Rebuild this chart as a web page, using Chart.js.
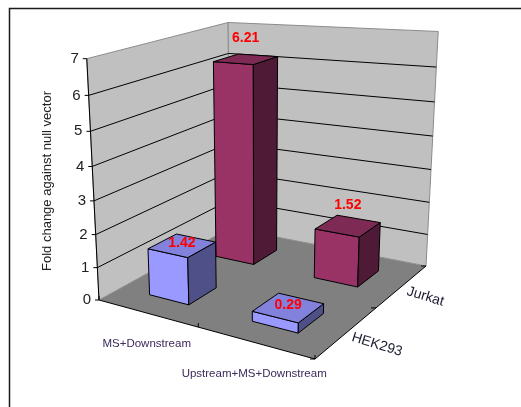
<!DOCTYPE html>
<html>
<head>
<meta charset="utf-8">
<script src="https://cdn.jsdelivr.net/npm/chart.js@4.4.1/dist/chart.umd.min.js"></script>
<style>
  html, body { margin: 0; padding: 0; background: #fff; }
  #wrap { position: relative; width: 521px; height: 407px; }
</style>
</head>
<body>
<div id="wrap"><canvas id="c" width="521" height="407"></canvas></div>
<script>
// ---- data ----
const categories = ['MS+Downstream', 'Upstream+MS+Downstream'];
const seriesNames = ['HEK293', 'Jurkat'];          // front row first
const hek293Values = [1.42, 0.29];
const jurkatValues = [6.21, 1.52];
const valueTicks = [0, 1, 2, 3, 4, 5, 6, 7];
const axisTitle = 'Fold change against null vector';

// ---- styling ----
const FONT = 'Arial, "Liberation Sans", sans-serif';
const faceColors = {
  HEK293: { front: '#9999FF', top: '#8282DC', side: '#505088' },
  Jurkat: { front: '#993366', top: '#7D2A55', side: '#4F1A35' }
};
const labelLift = { HEK293: 2, Jurkat: 21 };

// Perspective plot box: floor corners (u,v) = (0,0),(1,0),(1,1),(0,1)
// and three corners of the wall tops, in canvas pixels.
const plotBox = {
  floor: [[99, 300], [315, 359], [426, 266], [230, 228]],
  top: [[0, 0, 87, 60], [1, 1, 437, 40], [0, 1, 229, 14]]
};

function makeProjector(b) {
  const [[x0, y0], [x1, y1], [x2, y2], [x3, y3]] = b.floor;
  const dx1 = x1 - x2, dx2 = x3 - x2, dx3 = x0 - x1 + x2 - x3;
  const dy1 = y1 - y2, dy2 = y3 - y2, dy3 = y0 - y1 + y2 - y3;
  const den = dx1 * dy2 - dx2 * dy1;
  const g = (dx3 * dy2 - dx2 * dy3) / den;
  const h = (dx1 * dy3 - dx3 * dy1) / den;
  const a = x1 - x0 + g * x1, bb = x3 - x0 + h * x3, c = x0;
  const d = y1 - y0 + g * y1, e = y3 - y0 + h * y3, f = y0;
  const base = (u, v) => [a * u + bb * v + c, d * u + e * v + f, g * u + h * v + 1];

  // vertical column of the projection, least squares over the wall-top corners
  const M = [[0, 0, 0], [0, 0, 0], [0, 0, 0]], r = [0, 0, 0];
  const add = (row, val) => {
    for (let i = 0; i < 3; i++) {
      r[i] += row[i] * val;
      for (let j = 0; j < 3; j++) M[i][j] += row[i] * row[j];
    }
  };
  b.top.forEach(([u, v, sx, sy]) => {
    const [X, Y, W] = base(u, v);
    add([1, 0, -sx], sx * W - X);
    add([0, 1, -sy], sy * W - Y);
  });
  const det = m => m[0][0] * (m[1][1] * m[2][2] - m[1][2] * m[2][1])
                 - m[0][1] * (m[1][0] * m[2][2] - m[1][2] * m[2][0])
                 + m[0][2] * (m[1][0] * m[2][1] - m[1][1] * m[2][0]);
  const D = det(M);
  const sol = [0, 1, 2].map(k => det(M.map((row, i) => row.map((val, j) => (j === k ? r[i] : val)))) / D);
  const [pu, pv, pw] = sol;
  return (u, v, t) => {
    const [X, Y, W] = base(u, v);
    const w = W + pw * t;
    return { x: (X + pu * t) / w, y: (Y + pv * t) / w };
  };
}
const P = makeProjector(plotBox);

function poly(ctx, pts, fill, stroke, lw) {
  ctx.beginPath();
  pts.forEach((p, i) => (i ? ctx.lineTo(p.x, p.y) : ctx.moveTo(p.x, p.y)));
  ctx.closePath();
  if (fill) { ctx.fillStyle = fill; ctx.fill(); }
  if (stroke) { ctx.strokeStyle = stroke; ctx.lineWidth = lw || 1; ctx.stroke(); }
}
function line(ctx, pts, color, lw) {
  ctx.beginPath();
  pts.forEach((p, i) => (i ? ctx.lineTo(p.x, p.y) : ctx.moveTo(p.x, p.y)));
  ctx.strokeStyle = color; ctx.lineWidth = lw || 1; ctx.stroke();
}

const box3d = {
  id: 'box3d',
  beforeDraw(chart) {
    const ctx = chart.ctx;
    ctx.save();
    ctx.fillStyle = '#fff';
    ctx.fillRect(0, 0, chart.width, chart.height);
    ctx.restore();
  },
  beforeDatasetsDraw(chart) {
    const ctx = chart.ctx;
    const xs = chart.scales.x, ys = chart.scales.y;
    const yBase = ys.getPixelForValue(ys.min), yTop = ys.getPixelForValue(ys.max);
    const dec = v => (ys.getPixelForValue(v) - yBase) / (yTop - yBase);
    const span = xs.right - xs.left;
    const nCats = chart.data.labels.length;
    const nRows = chart.data.datasets.length;
    ctx.save();

    // floor and walls
    poly(ctx, [P(0, 0, 0), P(1, 0, 0), P(1, 1, 0), P(0, 1, 0)], '#808080');
    poly(ctx, [P(0, 0, 0), P(0, 1, 0), P(0, 1, 1), P(0, 0, 1)], '#C0C0C0', '#8c8c8c', 1);
    poly(ctx, [P(0, 1, 0), P(1, 1, 0), P(1, 1, 1), P(0, 1, 1)], '#C0C0C0', '#8c8c8c', 1);

    // gridlines on the walls
    ys.ticks.forEach(tk => {
      if (tk.value <= ys.min || tk.value >= ys.max) return;
      const t = dec(tk.value);
      line(ctx, [P(0, 0, t), P(0, 1, t), P(1, 1, t)], '#000', 1);
    });

    // value axis with ticks and labels
    line(ctx, [P(0, 0, 0), P(0, 0, 1)], '#000', 1);
    ctx.font = '15px ' + FONT;
    ctx.fillStyle = '#222';
    ctx.textAlign = 'right';
    ctx.textBaseline = 'middle';
    ys.ticks.forEach(tk => {
      const p = P(0, 0, dec(tk.value));
      line(ctx, [p, { x: p.x - 4, y: p.y }], '#000', 1);
      ctx.fillText(String(tk.value), p.x - 8, p.y);
    });

    // category and series axes along the floor edges
    line(ctx, [P(0, 0, 0), P(1, 0, 0), P(1, 1, 0)], '#000', 1);
    for (let i = 0; i <= nCats; i++) {
      const p = P(i / nCats, 0, 0);
      line(ctx, [p, { x: p.x, y: p.y - 4 }], '#000', 1);
    }
    for (let j = 0; j <= nRows; j++) {
      const p = P(1, j / nRows, 0);
      line(ctx, [p, { x: p.x - 5, y: p.y }], '#000', 1);
    }

    // 3D columns: back row first, left to right
    const labels = [];
    for (let j = nRows - 1; j >= 0; j--) {
      const ds = chart.data.datasets[j];
      const meta = chart.getDatasetMeta(j);
      const col = faceColors[ds.label];
      const vc = (j + 0.5) / nRows;
      meta.data.forEach((el, i) => {
        const { x, width } = el.getProps(['x', 'width'], true);
        const u0 = (x - width / 2 - xs.left) / span;
        const u1 = (x + width / 2 - xs.left) / span;
        const dv = (width / (span / nCats)) / nRows;
        const v0 = vc - dv / 2, v1 = vc + dv / 2;
        const value = ds.data[i];
        const t = dec(value);
        const front = [P(u0, v0, 0), P(u1, v0, 0), P(u1, v0, t), P(u0, v0, t)];
        const side = [P(u1, v0, 0), P(u1, v1, 0), P(u1, v1, t), P(u1, v0, t)];
        const top = [P(u0, v0, t), P(u1, v0, t), P(u1, v1, t), P(u0, v1, t)];
        poly(ctx, front, col.front, '#000', 1);
        poly(ctx, side, col.side, '#000', 1);
        poly(ctx, top, col.top, '#000', 1);
        const c = P((u0 + u1) / 2, vc, t);
        labels.push({ text: value.toFixed(2), x: c.x, y: c.y - labelLift[ds.label] });
      });
    }

    // value labels
    ctx.font = 'bold 14px ' + FONT;
    ctx.fillStyle = '#FF0000';
    ctx.textAlign = 'center';
    ctx.textBaseline = 'middle';
    labels.forEach(l => ctx.fillText(l.text, l.x, l.y));

    // category labels
    ctx.font = '11.5px ' + FONT;
    ctx.fillStyle = '#3c2a5a';
    chart.data.labels.forEach((lab, i) => {
      const u = (xs.getPixelForValue(i) - xs.left) / span;
      const p = P(u, 0, 0);
      ctx.fillText(lab, p.x, p.y + 31);
    });

    // series labels along the depth axis
    ctx.font = '14px ' + FONT;
    ctx.fillStyle = '#1c1c30';
    ctx.textAlign = 'left';
    chart.data.datasets.forEach((ds, j) => {
      const p = P(1, (j + 0.5) / nRows, 0);
      ctx.save();
      ctx.translate(p.x + 5, p.y + 5);
      ctx.rotate(17 * Math.PI / 180);
      ctx.fillText(ds.label, 0, 0);
      ctx.restore();
    });

    // axis title
    ctx.save();
    ctx.font = '13px ' + FONT;
    ctx.fillStyle = '#222';
    ctx.textAlign = 'center';
    ctx.translate(47, 181);
    ctx.rotate(-Math.PI / 2);
    ctx.fillText(axisTitle, 0, 0);
    ctx.restore();

    // chart area border
    line(ctx, [{ x: 9.5, y: chart.height }, { x: 9.5, y: 8.5 }, { x: chart.width, y: 8.5 }], '#1a1a1a', 1.5);

    ctx.restore();
    return false;
  }
};

new Chart(document.getElementById('c'), {
  type: 'bar',
  data: {
    labels: categories,
    datasets: [
      { label: seriesNames[0], data: hek293Values },
      { label: seriesNames[1], data: jurkatValues }
    ]
  },
  options: {
    responsive: false,
    animation: false,
    devicePixelRatio: 1,
    layout: { padding: 0 },
    datasets: { bar: { grouped: false, categoryPercentage: 1, barPercentage: 0.4 } },
    plugins: { legend: { display: false }, tooltip: { enabled: false } },
    scales: {
      x: { offset: true, ticks: { display: false }, grid: { display: false }, border: { display: false } },
      y: {
        min: 0, max: 7,
        afterBuildTicks: s => { s.ticks = valueTicks.map(v => ({ value: v })); },
        ticks: { display: false }, grid: { display: false }, border: { display: false }
      }
    }
  },
  plugins: [box3d]
});
</script>
</body>
</html>
